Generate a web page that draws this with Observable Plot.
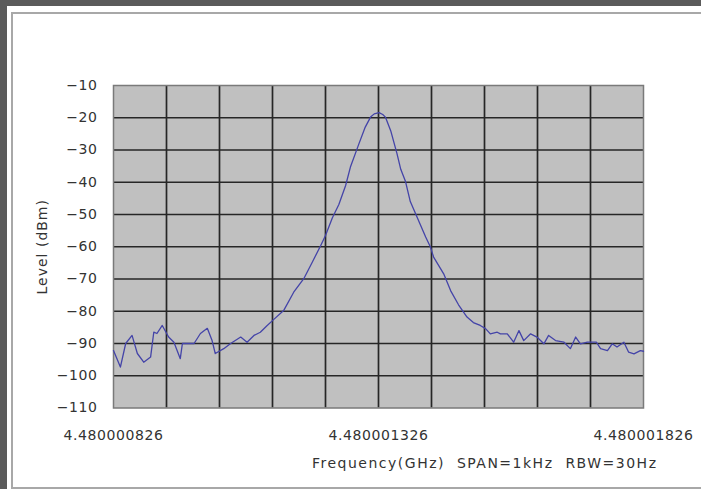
<!DOCTYPE html>
<html><head><meta charset="utf-8">
<script src="https://cdn.jsdelivr.net/npm/d3@7"></script>
<script src="https://cdn.jsdelivr.net/npm/@observablehq/plot@0.6"></script>
<style>
html,body{margin:0;padding:0;background:#5b5b5b;width:701px;height:489px;overflow:hidden;}
#page{position:absolute;left:7px;top:6px;width:694px;height:483px;background:#fff;}
#frame{position:absolute;left:4px;top:6px;width:690px;height:473px;border:2px solid #a8a8a8;border-right:none;}
#chart{position:absolute;left:0;top:0;}
#chart svg text{letter-spacing:0.6px;}
</style></head><body>
<div id="page"><div id="frame"></div><div id="chart"></div></div>
<script>
// Frequency offset from 4.480000826 GHz, in Hz (span 1 kHz)
const freqOffsetHz = [0,13,23,35,45,57,70,76,82,92,104,114,126,130,139,152,164,177,186,192,208,221,240,252,265,277,290,302,321,340,359,375,391,400,413,425,438,447,463,475,485,492,501,508,513,523,535,542,551,560,570,589,598,604,623,636,651,667,679,692,702,711,724,730,743,755,765,774,787,799,812,821,834,850,862,872,881,894,911,919,932,941,950,963,972,982,994,1000];
const levelDbm = [-92.2,-97.3,-90,-87.5,-93.1,-95.8,-94.2,-86.5,-86.9,-84.4,-88,-89.6,-94.7,-90,-90,-90,-86.9,-85.3,-89.1,-93.1,-91.6,-90,-88,-89.6,-87.5,-86.5,-84.4,-82.6,-79.8,-74.1,-69.9,-64.8,-59.6,-56.5,-51,-47,-41,-35.3,-28.1,-22.9,-19.8,-18.8,-18.4,-19,-19.8,-24,-31.2,-36,-39.8,-46,-49.8,-57,-60.1,-63.2,-68.4,-73.6,-78,-81.8,-83.5,-84.4,-85.4,-87,-86.5,-87,-87,-89.6,-86,-89.1,-87,-88,-90.1,-87.5,-89.1,-89.6,-91.6,-88,-90.1,-89.6,-89.6,-91.6,-92.2,-90.1,-91.1,-89.6,-92.7,-93.2,-92.2,-92.4];

const xTickValues = [0, 500, 1000];
const xTickLabels = ["4.480000826", "4.480001326", "4.480001826"];
const xGrid = [100,200,300,400,500,600,700,800,900];
const yTicks = [-10,-20,-30,-40,-50,-60,-70,-80,-90,-100,-110];
const yGrid = [-20,-30,-40,-50,-60,-70,-80,-90,-100];
const yLabel = "Level (dBm)";
const xCaption = "Frequency(GHz)\u00a0\u00a0SPAN=1kHz\u00a0\u00a0RBW=30Hz";

const data = freqOffsetHz.map((f, i) => ({f, v: levelDbm[i]}));

const chart = Plot.plot({
  width: 694,
  height: 483,
  marginLeft: 106,
  marginRight: 58,
  marginTop: 79,
  marginBottom: 81.5,
  style: {fontFamily: "DejaVu Sans", fontSize: "14px", color: "#333", background: "transparent"},
  x: {domain: [0, 1000]},
  y: {domain: [-110, -10]},
  marks: [
    Plot.frame({fill: "#c0c0c0"}),
    Plot.ruleX(xGrid, {stroke: "#262626", strokeWidth: 1.7}),
    Plot.ruleY(yGrid, {stroke: "#262626", strokeWidth: 1.7}),
    Plot.frame({stroke: "#7a7a7a", strokeWidth: 1.5}),
    Plot.line(data, {x: "f", y: "v", stroke: "#4444a8", strokeWidth: 1.3}),
    Plot.axisY({ticks: yTicks, tickSize: 0, tickPadding: 16, label: null, tickFormat: d => d3.format("")(d).replace("-", "\u2212")}),
    Plot.axisX({ticks: xTickValues, tickSize: 0, tickPadding: 22, label: null,
                tickFormat: d => xTickLabels[xTickValues.indexOf(d)]}),
    Plot.text([yLabel], {text: d => d, frameAnchor: "left", textAnchor: "middle", rotate: -90, dx: -71, fontSize: 14}),
    Plot.text([xCaption], {text: d => d, frameAnchor: "bottom-right", textAnchor: "end", dx: 14, dy: 60, fontSize: 14})
  ]
});
document.getElementById("chart").appendChild(chart);
d3.select(chart).selectAll("text").each(function() {
  const t = this.textContent;
  if (t === xCaption) this.style.letterSpacing = "1.5px";
  else if (t === yLabel) this.style.letterSpacing = "1px";
});
</script>
</body></html>
